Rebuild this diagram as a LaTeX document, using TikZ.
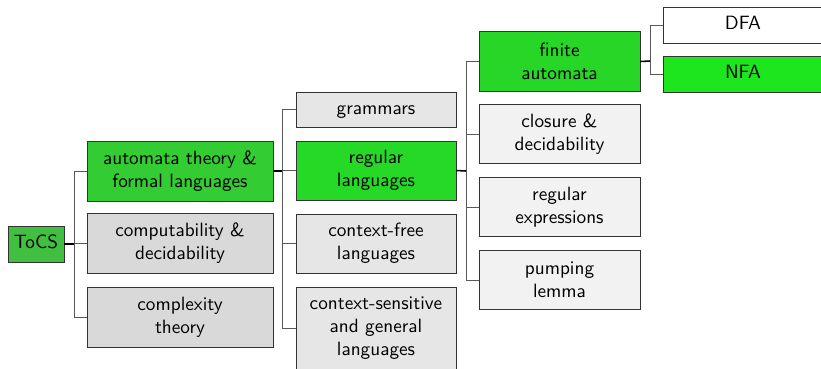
\documentclass[tikz,border=0pt]{standalone}
\usepackage{xcolor}
\definecolor{g0}{RGB}{64,191,64}
\definecolor{g1}{RGB}{51,204,51}
\definecolor{g2}{RGB}{38,217,38}
\definecolor{g3}{RGB}{40,214,40}
\definecolor{g4}{RGB}{30,230,30}
\definecolor{k1}{RGB}{217,217,217}
\definecolor{k2}{RGB}{230,230,230}
\definecolor{k3}{RGB}{242,242,242}
\begin{document}
\begin{tikzpicture}[x=0.52pt,y=-0.52pt,
  box/.style={draw=black!80, line width=0.5pt, inner sep=0pt, align=center,
    font=\sffamily\fontsize{10}{12}\selectfont, rectangle},
  single/.style={text height=7pt, text depth=2pt},
  lone/.style={box, minimum width=96.72pt, minimum height=31.2pt},
  ltwo/.style={box, minimum width=83.2pt, minimum height=30.68pt},
  lthree/.style={box, minimum width=83.72pt, minimum height=31pt},
  lfour/.style={box, single, minimum width=83.2pt, minimum height=18.72pt},
  branch/.style={draw=black!65, line width=0.5pt},
  stub/.style={draw=black, line width=0.8pt}]
\useasboundingbox (0,0) rectangle (821,368);
% nodes
\node[box, single, fill=g0, minimum width=29.12pt, minimum height=18.72pt] (tocs) at (36,244) {ToCS};
\node[lone, fill=g1] (atfl) at (180,171) {automata theory \&\\formal languages};
\node[lone, fill=k1] (comp) at (180,243.5) {computability \&\\decidability};
\node[lone, fill=k1] (cplx) at (180,317) {complexity\\theory};
\node[ltwo, single, fill=k2, minimum height=18.2pt] (gram) at (376,109.5) {grammars};
\node[ltwo, fill=g2] (reg) at (376,170.5) {regular\\languages};
\node[ltwo, fill=k2] (cfl) at (376,243.5) {context-free\\languages};
\node[ltwo, fill=k2, minimum height=43.16pt] (csl) at (376,328.5) {context-sensitive\\and general\\languages};
\node[lthree, fill=g3] (fa) at (559.5,61.5) {finite\\automata};
\node[lthree, fill=k3] (clos) at (559.5,134) {closure \&\\decidability};
\node[lthree, fill=k3] (rex) at (559.5,207) {regular\\expressions};
\node[lthree, fill=k3] (pump) at (559.5,280) {pumping\\lemma};
\node[lfour, fill=white] (dfa) at (743,25) {DFA};
\node[lfour, fill=g4] (nfa) at (743,74) {NFA};
% trunks
\coordinate (t1) at (74,244);
\coordinate (t2) at (282,171);
\coordinate (t3) at (466,171);
\coordinate (t4) at (650,61);
% branches
\foreach \c in {atfl,comp,cplx} \draw[branch] (\c.west) -| (t1);
\foreach \c in {gram,reg,cfl,csl} \draw[branch] (\c.west) -| (t2);
\foreach \c in {fa,clos,rex,pump} \draw[branch] (\c.west) -| (t3);
\foreach \c in {dfa,nfa} \draw[branch] (\c.west) -| (t4);
% stubs
\draw[stub] (tocs.east) -- (t1);
\draw[stub] (atfl.east) -- (t2);
\draw[stub] (reg.east) -- (t3);
\draw[stub] (fa.east) -- (t4);
\end{tikzpicture}
\end{document}
